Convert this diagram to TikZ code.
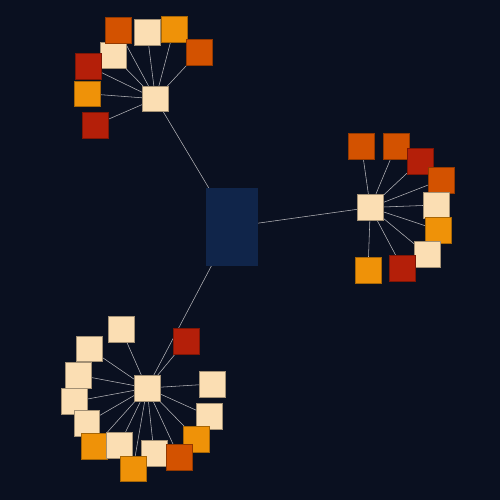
\documentclass[tikz,border=0pt]{standalone}
\pgfdeclarelayer{bg}
\pgfdeclarelayer{edges}
\pgfsetlayers{bg,edges,main}
\definecolor{bgc}{HTML}{0A1020}
\definecolor{centerc}{HTML}{10254A}
\definecolor{creamc}{HTML}{FBDEB3}
\definecolor{orangec}{HTML}{EF9208}
\definecolor{orredc}{HTML}{D35200}
\definecolor{redc}{HTML}{B41F09}
\definecolor{edgec}{HTML}{B4B4B8}
\tikzset{
  box/.style={minimum size=25.7pt, inner sep=0pt, line width=0.6pt, rectangle},
  cream/.style={box, fill=creamc, draw=creamc!65!black},
  orng/.style={box, fill=orangec, draw=orangec!70!black},
  orred/.style={box, fill=orredc, draw=orredc!70!black},
  rd/.style={box, fill=redc, draw=redc!70!black},
  centerbox/.style={rectangle, inner sep=0pt, minimum width=52pt, minimum height=77.7pt, fill=centerc, draw=none},
  link/.style={draw=edgec, line width=0.55pt}
}
\begin{document}
\begin{tikzpicture}[x=1pt,y=-1pt]
\begin{pgfonlayer}{bg}
\fill[bgc] (0,0) rectangle (500,500);
\end{pgfonlayer}
\useasboundingbox (0,0) rectangle (500,500);
% center
\node[centerbox] (c) at (232,226.8) {};
% top cluster
\node[cream] (h1) at (155.5,98.8) {};
\node[cream] (t1) at (113,55.3) {};
\node[rd] (t2) at (88,66) {};
\node[orng] (t3) at (87.3,93.7) {};
\node[rd] (t4) at (95,125) {};
\node[orred] (t5) at (118.5,30.5) {};
\node[cream] (t6) at (147,32.3) {};
\node[orng] (t7) at (174,29) {};
\node[orred] (t8) at (199,52) {};
% right cluster
\node[cream] (h2) at (370.3,207.5) {};
\node[orred] (r1) at (361.5,146) {};
\node[orred] (r2) at (396,146) {};
\node[rd] (r3) at (420,161) {};
\node[orred] (r4) at (441,180) {};
\node[cream] (r5) at (436,205) {};
\node[orng] (r6) at (438,230) {};
\node[cream] (r7) at (427,254.5) {};
\node[rd] (r8) at (402.5,268) {};
\node[orng] (r9) at (368,270.3) {};
% bottom cluster
\node[cream] (h3) at (147,388) {};
\node[rd] (b1) at (186,341) {};
\node[cream] (b2) at (121,329) {};
\node[cream] (b3) at (89.5,348.7) {};
\node[cream] (b4) at (78,375) {};
\node[cream] (b5) at (74,401.5) {};
\node[cream] (b6) at (86.7,423) {};
\node[orng] (b7) at (94.5,446.5) {};
\node[cream] (b8) at (119,445.5) {};
\node[cream] (b9) at (154,453) {};
\node[orng] (b10) at (133,468.7) {};
\node[cream] (b11) at (212,384) {};
\node[cream] (b12) at (209,416) {};
\node[orng] (b13) at (196.5,439) {};
\node[orred] (b14) at (179,457) {};
\begin{pgfonlayer}{edges}
\foreach \h in {h1,h2,h3} \draw[link] (c.center) -- (\h.center);
\foreach \n in {t1,t2,t3,t4,t5,t6,t7,t8} \draw[link] (h1.center) -- (\n.center);
\foreach \n in {r1,r2,r3,r4,r5,r6,r7,r8,r9} \draw[link] (h2.center) -- (\n.center);
\foreach \n in {b1,b2,b3,b4,b5,b6,b7,b8,b9,b10,b11,b12,b13,b14} \draw[link] (h3.center) -- (\n.center);
\end{pgfonlayer}
\end{tikzpicture}
\end{document}
